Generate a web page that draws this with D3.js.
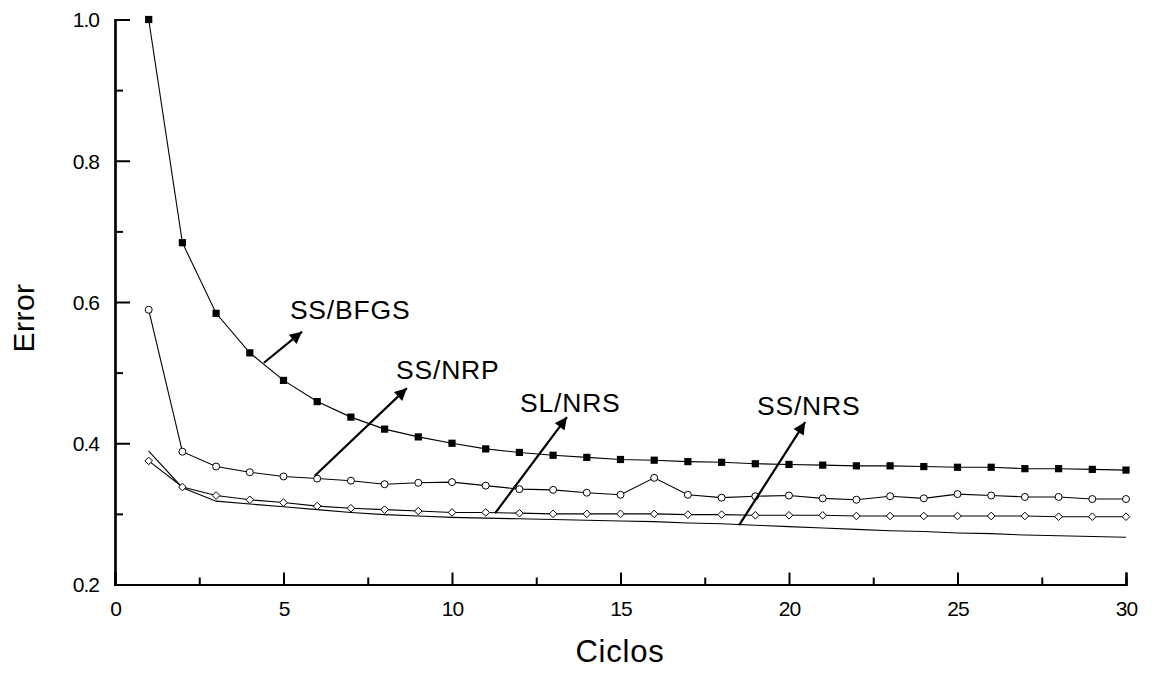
<!DOCTYPE html>
<html><head><meta charset="utf-8">
<script src="https://cdn.jsdelivr.net/npm/d3@7"></script>
<style>
body{margin:0;background:#fff;}
text{font-family:"Liberation Sans",Arial,sans-serif;fill:#000;}
</style></head><body>
<svg id="c" width="1154" height="674"></svg>
<script>
const cycles = d3.range(1, 31);
const ssBFGS = [1.000,0.684,0.584,0.528,0.489,0.459,0.437,0.420,0.409,0.400,0.392,0.387,0.383,0.380,0.377,0.376,0.374,0.373,0.371,0.370,0.369,0.368,0.368,0.367,0.366,0.366,0.364,0.364,0.363,0.362];
const ssNRP = [0.589,0.388,0.367,0.359,0.353,0.350,0.347,0.342,0.344,0.345,0.340,0.335,0.334,0.330,0.327,0.351,0.327,0.323,0.325,0.326,0.322,0.320,0.325,0.322,0.328,0.326,0.324,0.324,0.321,0.321];
const ssNRS = [0.375,0.338,0.326,0.320,0.316,0.311,0.308,0.306,0.304,0.302,0.302,0.301,0.300,0.300,0.300,0.300,0.299,0.299,0.298,0.298,0.298,0.297,0.297,0.297,0.297,0.297,0.297,0.296,0.296,0.296];
const slNRS = [0.389,0.337,0.318,0.314,0.310,0.306,0.302,0.299,0.297,0.295,0.294,0.293,0.292,0.291,0.290,0.289,0.287,0.286,0.284,0.282,0.280,0.278,0.276,0.275,0.273,0.272,0.270,0.269,0.268,0.267];
const xMajor = [0,5,10,15,20,25,30];
const xMinor = [2.5,7.5,12.5,17.5,22.5,27.5];
const yMajor = [0.2,0.4,0.6,0.8,1.0];
const yMinor = [0.3,0.5,0.7,0.9];
const notes = [
  {label:"SS/BFGS", from:[4.42,0.514], to:[5.55,0.558], at:[5.19,0.576]},
  {label:"SS/NRP",  from:[5.93,0.354], to:[8.66,0.478], at:[8.34,0.491]},
  {label:"SL/NRS",  from:[11.28,0.301], to:[13.41,0.437], at:[12.02,0.444]},
  {label:"SS/NRS",  from:[18.52,0.284], to:[20.48,0.430], at:[19.05,0.440]}
];

const svg = d3.select("#c");
const x = d3.scaleLinear().domain([0,30]).range([115,1126]);
const y = d3.scaleLinear().domain([0.2,1.0]).range([584.5,19.5]);

svg.append("defs").append("marker").attr("id","ah")
  .attr("viewBox","0 0 10 10").attr("refX",10).attr("refY",5)
  .attr("markerWidth",6.5).attr("markerHeight",5.5).attr("markerUnits","strokeWidth")
  .attr("orient","auto")
  .append("path").attr("d","M0,0 L10,5 L0,10 z").attr("fill","#000");

// axes
const gx = svg.append("g").attr("transform",`translate(0,${y(0.2)})`);
gx.call(d3.axisBottom(x).tickValues(xMajor).tickSize(-12).tickPadding(17).tickFormat(d3.format("d")));
gx.append("g").call(d3.axisBottom(x).tickValues(xMinor).tickSize(-7).tickFormat(""));
const gy = svg.append("g").attr("transform",`translate(${x(0)},0)`);
gy.call(d3.axisLeft(y).tickValues(yMajor).tickSize(-15).tickPadding(32).tickFormat(d3.format(".1f")));
gy.append("g").call(d3.axisLeft(y).tickValues(yMinor).tickSize(-8).tickFormat(""));
svg.selectAll(".domain").attr("stroke","#000").attr("stroke-width",2.2);
svg.selectAll(".tick line").attr("stroke","#000").attr("stroke-width",2);
svg.selectAll(".tick text").style("font-size","21px").style("letter-spacing","-1px").attr("fill","#000");
gy.selectAll(".tick text").attr("dx","16").attr("dy","0.35em");
gx.selectAll(".tick text").attr("dy","0.71em");

// lines
const line = d3.line().x((d,i)=>x(cycles[i])).y(d=>y(d));
[slNRS, ssNRS, ssNRP, ssBFGS].forEach(s=>{
  svg.append("path").datum(s).attr("d",line).attr("fill","none").attr("stroke","#000").attr("stroke-width",1.1);
});

// markers
svg.append("g").selectAll("rect").data(ssBFGS).join("rect")
  .attr("x",(d,i)=>x(cycles[i])-3.6).attr("y",d=>y(d)-3.6).attr("width",7.2).attr("height",7.2).attr("fill","#000");
svg.append("g").selectAll("circle").data(ssNRP).join("circle")
  .attr("cx",(d,i)=>x(cycles[i])).attr("cy",d=>y(d)).attr("r",3.5).attr("fill","#fff").attr("stroke","#000").attr("stroke-width",1);
svg.append("g").selectAll("path").data(ssNRS).join("path")
  .attr("d",(d,i)=>{const cx=x(cycles[i]),cy=y(d),r=3.8;return `M${cx},${cy-r}L${cx+r},${cy}L${cx},${cy+r}L${cx-r},${cy}Z`;})
  .attr("fill","#fff").attr("stroke","#000").attr("stroke-width",1);

// annotations
const an = svg.append("g");
an.selectAll("line").data(notes).join("line")
  .attr("x1",d=>x(d.from[0])).attr("y1",d=>y(d.from[1]))
  .attr("x2",d=>x(d.to[0])).attr("y2",d=>y(d.to[1]))
  .attr("stroke","#000").attr("stroke-width",2.2).attr("marker-end","url(#ah)");
an.selectAll("text").data(notes).join("text")
  .attr("x",d=>x(d.at[0])).attr("y",d=>y(d.at[1]))
  .style("font-size","26.5px").style("letter-spacing","0.8px").text(d=>d.label);

// axis titles
svg.append("text").attr("x",620).attr("y",662).attr("text-anchor","middle").style("font-size","31px").style("letter-spacing","0.8px").text("Ciclos");
svg.append("text").attr("transform","translate(34,318) rotate(-90)").attr("text-anchor","middle").style("font-size","30px").style("letter-spacing","0.5px").text("Error");
</script></body></html>
